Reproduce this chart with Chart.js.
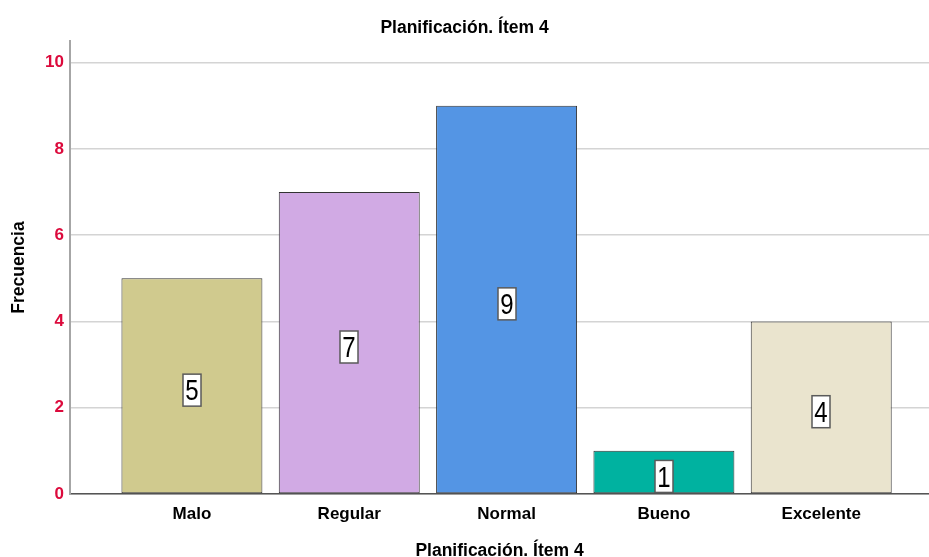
<!DOCTYPE html>
<html>
<head>
<meta charset="utf-8">
<script src="https://cdn.jsdelivr.net/npm/chart.js@4.4.1/dist/chart.umd.min.js"></script>
<style>
  html, body { margin: 0; padding: 0; background: #fff; }
  #wrap { width: 929px; height: 557px; position: relative; }
</style>
</head>
<body>
<div id="wrap"><canvas id="c"></canvas></div>
<script>
// Frequencies per answer category
const categories = ["Malo", "Regular", "Normal", "Bueno", "Excelente"];
const frecuencias = [5, 7, 9, 1, 4];
const barColors = ["#d0ca8e", "#d1aae4", "#5495e4", "#00b2a0", "#eae4ce"];
const yTicks = [0, 2, 4, 6, 8, 10];

const FONT = "'Liberation Sans', Arial, sans-serif";

// Boxed value label in the middle of each bar (narrow, tall digits)
const valueBoxes = {
  id: 'valueBoxes',
  afterDatasetsDraw(chart) {
    const meta = chart.getDatasetMeta(0);
    const ctx = chart.ctx;
    const yScale = chart.scales.y;
    ctx.save();
    meta.data.forEach((bar, i) => {
      const v = frecuencias[i];
      const cy = yScale.getPixelForValue(v / 2) + 4;
      const cx = Math.round(bar.x);
      const w = 18, h = 32;
      ctx.fillStyle = '#ffffff';
      ctx.fillRect(cx - w / 2, cy - h / 2, w, h);
      ctx.lineWidth = 1.5;
      ctx.strokeStyle = '#5a5a5a';
      ctx.strokeRect(cx - w / 2, cy - h / 2, w, h);
      ctx.save();
      ctx.translate(cx, cy);
      ctx.scale(0.8, 1);
      ctx.font = "30px " + FONT;
      ctx.textAlign = 'center';
      ctx.textBaseline = 'middle';
      ctx.fillStyle = '#000000';
      ctx.fillText(String(v), 0, 2);
      ctx.restore();
    });
    ctx.restore();
  }
};

new Chart(document.getElementById('c'), {
  type: 'bar',
  data: {
    datasets: [{
      data: frecuencias.map((v, i) => ({ x: i, y: v })),
      backgroundColor: barColors,
      borderColor: '#333333',
      borderWidth: 1,
      borderSkipped: false,
      categoryPercentage: 1,
      barPercentage: 0.896
    }]
  },
  options: {
    responsive: true,
    maintainAspectRatio: false,
    animation: false,
    layout: { padding: 0 },
    plugins: {
      legend: { display: false },
      tooltip: { enabled: false },
      title: {
        display: true,
        text: 'Planificación. Ítem 4',
        color: '#000',
        font: { family: FONT, size: 17.5, weight: 'bold', lineHeight: 1 },
        padding: { top: 19, bottom: 4.5 }
      }
    },
    scales: {
      x: {
        type: 'linear',
        offset: false,
        min: -0.775,
        max: 4.685,
        grid: { display: false, offset: false },
        border: { display: true, color: '#555555', width: 1.5 },
        afterFit: (axis) => { axis.height = 63; },
        ticks: {
          stepSize: 1,
          includeBounds: false,
          autoSkip: false,
          maxRotation: 0,
          padding: 2,
          color: '#000',
          font: { family: FONT, size: 17, weight: 'bold' },
          callback: (v) => (Number.isInteger(v) && categories[v] !== undefined) ? categories[v] : ''
        },
        title: {
          display: true,
          text: 'Planificación. Ítem 4',
          color: '#000',
          font: { family: FONT, size: 17.5, weight: 'bold', lineHeight: 1 },
          padding: { top: 14, bottom: -3 }
        }
      },
      y: {
        min: 0,
        max: 10.5,
        afterBuildTicks: (axis) => { axis.ticks = yTicks.map(v => ({ value: v })); },
        afterFit: (axis) => { axis.width = 70; },
        grid: { color: '#d4d4d4', lineWidth: 1.5, drawTicks: false },
        border: { display: true, color: '#a6a6a6', width: 2 },
        ticks: {
          padding: 6,
          color: '#dc0a3c',
          font: { family: FONT, size: 17, weight: 'bold' }
        },
        title: {
          display: true,
          text: 'Frecuencia',
          color: '#000',
          font: { family: FONT, size: 17.5, weight: 'bold', lineHeight: 1 },
          padding: { top: 10, bottom: 10 }
        }
      }
    }
  },
  plugins: [valueBoxes]
});
</script>
</body>
</html>
